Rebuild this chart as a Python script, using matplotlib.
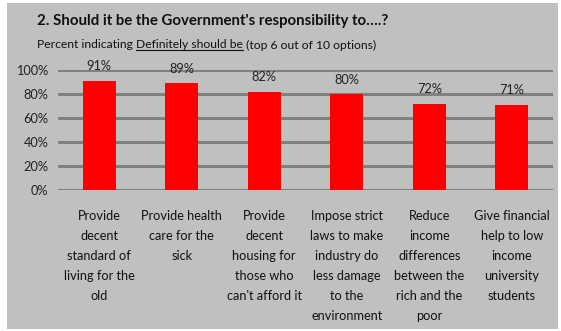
import matplotlib
matplotlib.use("Agg")
import matplotlib.pyplot as plt
from matplotlib.patches import Rectangle

plt.rcParams['font.family'] = ['Lato', 'DejaVu Sans']

categories = [
    "Provide\ndecent\nstandard of\nliving for the\nold",
    "Provide health\ncare for the\nsick",
    "Provide\ndecent\nhousing for\nthose who\ncan't afford it",
    "Impose strict\nlaws to make\nindustry do\nless damage\nto the\nenvironment",
    "Reduce\nincome\ndifferences\nbetween the\nrich and the\npoor",
    "Give financial\nhelp to low\nincome\nuniversity\nstudents",
]
values = [91, 89, 82, 80, 72, 71]
yticks = [0, 20, 40, 60, 80, 100]

W, H = 561, 331
fig = plt.figure(figsize=(W / 100, H / 100), dpi=100)
fig.patch.set_facecolor("white")

# grey panel behind everything
fig.add_artist(Rectangle((7 / W, 2 / H), 551 / W, 326 / H,
                         transform=fig.transFigure, facecolor="#c0c0c0",
                         edgecolor="none", zorder=-10))

ax = fig.add_axes([58 / W, (H - 190) / H, 495 / W, 120 / H])
ax.set_zorder(1)
ax.set_facecolor("none")
x = list(range(len(values)))
ax.bar(x, values, width=0.4, color="#ff0000", zorder=3)
for xi, v in zip(x, values):
    ax.annotate(f"{v}%", xy=(xi, v), xytext=(0, 6), textcoords="offset points",
                ha="center", va="bottom", fontsize=9.2, color="#222222")

ax.set_xlim(-0.5, len(values) - 0.5)
ax.set_ylim(0, 100)
ax.set_yticks(yticks)
ax.set_yticklabels([f"{t}%" for t in yticks], fontsize=9.2, color="#222222")
ax.tick_params(axis="y", length=0, pad=7)
ax.set_xticks([])
for t in yticks:
    ax.axhline(t, color="#808080", lw=2.2, zorder=1)
for s in ax.spines.values():
    s.set_visible(False)

for xi, c in zip(x, categories):
    ax.annotate(c, xy=(xi, 0), xycoords=("data", "axes fraction"),
                xytext=(0, -14.5), textcoords="offset points",
                ha="center", va="top", fontsize=9.2, linespacing=1.8,
                color="#111111")

# title and subtitle
fig.text(37 / W, 1 - 21 / H, "2. Should it be the Government's responsibility to\u2026.?",
         fontsize=10.8, fontweight="bold", va="center", ha="left", color="#111111")

renderer = fig.canvas.get_renderer()
parts = ["Percent indicating ", "Definitely should be", " (top 6 out of 10 options)"]
xpos = 37 / W
ysub = 1 - 45 / H
for i, p in enumerate(parts):
    t = fig.text(xpos, ysub, p, fontsize=8.7, va="center", ha="left", color="#111111")
    bb = t.get_window_extent(renderer)
    if i == 1:
        uy = (bb.y0 + 1) / H
        fig.add_artist(plt.Line2D([bb.x0 / W, bb.x1 / W], [uy, uy],
                                  transform=fig.transFigure, color="#111111", lw=0.8))
    xpos = bb.x1 / W

fig.savefig("out.png", dpi=100)
